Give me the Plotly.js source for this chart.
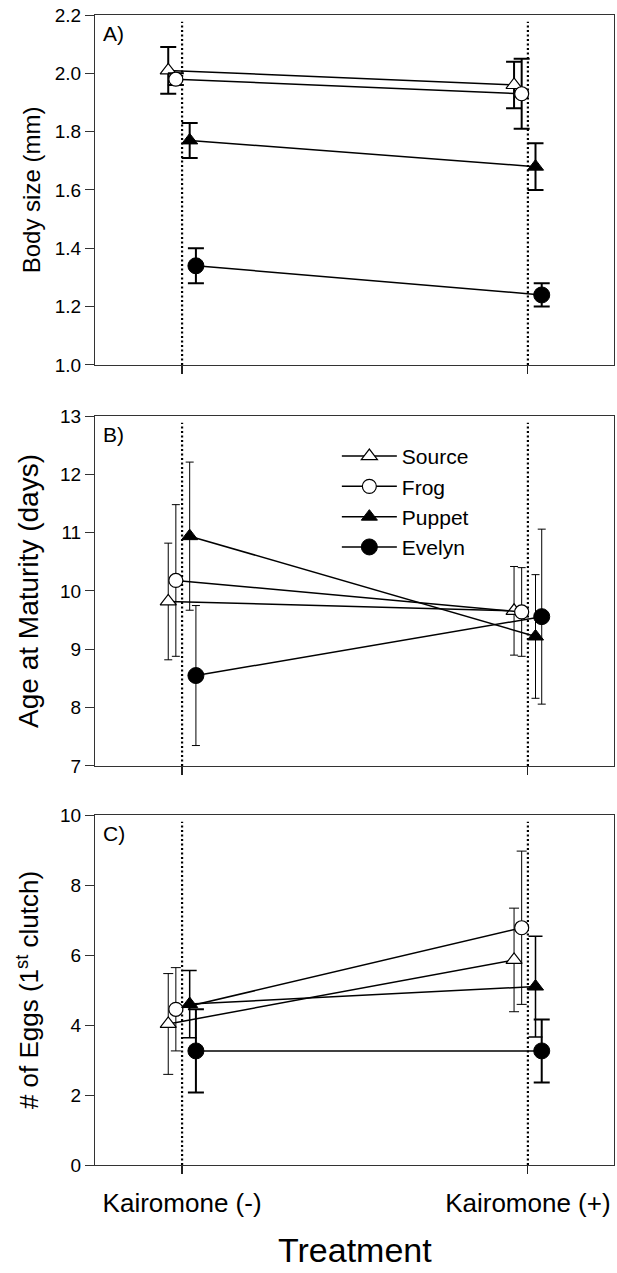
<!DOCTYPE html>
<html>
<head>
<meta charset="utf-8">
<script src="https://cdn.plot.ly/plotly-3.0.1.min.js"></script>
<style>html,body{margin:0;padding:0;background:#fff;}#chart{width:617px;height:1273px;}</style>
</head>
<body>
<div id="chart"></div>
<script>
// ---- data ----
const treatments = ["Kairomone (-)", "Kairomone (+)"];
const seriesNames = ["Source", "Frog", "Puppet", "Evelyn"];

// A) Body size (mm)
const sizeSource = [2.01, 1.96];
const sizeFrog   = [1.98, 1.93];
const sizePuppet = [1.77, 1.68];
const sizeEvelyn = [1.34, 1.24];
const sizeErrSource = [0.08, 0.08];
const sizeErrFrog   = [0.02, 0.12];
const sizeErrPuppet = [0.06, 0.08];
const sizeErrEvelyn = [0.06, 0.04];

// B) Age at maturity (days)
const ageSource = [9.82, 9.66];
const ageFrog   = [10.18, 9.64];
const agePuppet = [10.94, 9.22];
const ageEvelyn = [8.55, 9.56];
const ageErrSource = [1.00, 0.76];
const ageErrFrog   = [1.30, 0.76];
const ageErrPuppet = [1.27, 1.06];
const ageErrEvelyn = [1.20, 1.50];

// C) # of eggs (1st clutch)
const eggSource = [4.03, 5.86];
const eggFrog   = [4.45, 6.78];
const eggPuppet = [4.60, 5.10];
const eggEvelyn = [3.26, 3.26];
const eggErrSource = [1.44, 1.48];
const eggErrFrog   = [1.19, 2.19];
const eggErrPuppet = [0.96, 1.44];
const eggErrEvelyn = [1.19, 0.90];

// ---- styling ----
const FONT = "Liberation Sans, Arial, sans-serif";
const dodge = {Source: -0.04, Frog: -0.018, Puppet: 0.022, Evelyn: 0.04};
const markerStyle = {
  Source: {symbol: "triangle-up", color: "#ffffff", size: 14, line: {color: "#000", width: 1.2}},
  Frog:   {symbol: "circle", color: "#ffffff", size: 14, line: {color: "#000", width: 1.2}},
  Puppet: {symbol: "triangle-up", color: "#000000", size: 14, line: {color: "#000", width: 1}},
  Evelyn: {symbol: "circle", color: "#000000", size: 16, line: {color: "#000", width: 1}}
};

function xs(name) { return treatments.map((t, i) => i + dodge[name]); }

const panels = [
  {xa: "x", ya: "y", vals: {Source: sizeSource, Frog: sizeFrog, Puppet: sizePuppet, Evelyn: sizeEvelyn},
   errs: {Source: sizeErrSource, Frog: sizeErrFrog, Puppet: sizeErrPuppet, Evelyn: sizeErrEvelyn},
   eb: {Source: [2, 8], Frog: [2, 8], Puppet: [2, 8], Evelyn: [2, 8]}, legend: false},
  {xa: "x2", ya: "y2", vals: {Source: ageSource, Frog: ageFrog, Puppet: agePuppet, Evelyn: ageEvelyn},
   errs: {Source: ageErrSource, Frog: ageErrFrog, Puppet: ageErrPuppet, Evelyn: ageErrEvelyn},
   eb: {Source: [1, 4], Frog: [1, 4], Puppet: [1, 4], Evelyn: [1, 4]}, legend: true},
  {xa: "x3", ya: "y3", vals: {Source: eggSource, Frog: eggFrog, Puppet: eggPuppet, Evelyn: eggEvelyn},
   errs: {Source: eggErrSource, Frog: eggErrFrog, Puppet: eggErrPuppet, Evelyn: eggErrEvelyn},
   eb: {Source: [1, 5], Frog: [1, 5], Puppet: [1.5, 7], Evelyn: [2, 8]}, legend: false}
];

const traces = [];
panels.forEach(p => {
  seriesNames.forEach(name => {
    traces.push({
      type: "scatter", mode: "lines+markers",
      name: name, legendgroup: name, showlegend: p.legend,
      x: xs(name), y: p.vals[name],
      xaxis: p.xa, yaxis: p.ya,
      line: {color: "#000", width: 1.5},
      marker: markerStyle[name],
      error_y: {type: "data", array: p.errs[name], visible: true, color: "#000",
                thickness: p.eb[name][0], width: p.eb[name][1]},
      cliponaxis: false
    });
  });
});

const xRange = [-0.2518, 1.249];
function xaxisDef(anchor, showLabels) {
  return {
    anchor: anchor, domain: [0, 1], range: xRange,
    tickmode: "array", tickvals: [0, 1], ticktext: treatments,
    showticklabels: showLabels, ticks: "outside", ticklen: 8, tickwidth: 1.2, tickcolor: "#222",
    showline: true, linecolor: "#333", linewidth: 1, mirror: true,
    showgrid: false, zeroline: false, fixedrange: true,
    tickfont: {family: FONT, size: 26, color: "#000"}, ticklabelstandoff: 7
  };
}
function yaxisDef(anchor, domain, range, dtick, fmt, title, tsize, standoff) {
  return {
    anchor: anchor, domain: domain, range: range, dtick: dtick, tick0: range[0], tickformat: fmt,
    ticks: "outside", ticklen: 9, tickwidth: 1, tickcolor: "#333",
    showline: true, linecolor: "#333", linewidth: 1, mirror: true,
    showgrid: false, zeroline: false, fixedrange: true,
    tickfont: {family: FONT, size: 19, color: "#000"},
    title: {text: title, font: {family: FONT, size: tsize, color: "#000"}, standoff: standoff}
  };
}

const dots = ["x", "x2", "x3"].flatMap((xa, k) => {
  const ya = ["y", "y2", "y3"][k];
  return [0, 1].map(v => ({
    type: "line", xref: xa, yref: ya + " domain", x0: v, x1: v, y0: 0, y1: 0.981,
    line: {color: "#000", width: 2.2, dash: "2px,2.5px"}, layer: "below"
  }));
});

const panelLabels = ["A)", "B)", "C)"].map((t, k) => ({
  text: t, xref: ["x", "x2", "x3"][k] + " domain", yref: ["y", "y2", "y3"][k] + " domain",
  x: 0.012, y: 0.987, xanchor: "left", yanchor: "top", showarrow: false,
  font: {family: FONT, size: 21, color: "#000"}
}));

const layout = {
  width: 617, height: 1273,
  margin: {l: 95, r: 3, t: 15, b: 108},
  paper_bgcolor: "#fff", plot_bgcolor: "#fff",
  showlegend: true,
  legend: {x: 0.466, y: 0.634, xanchor: "left", yanchor: "top",
           font: {family: FONT, size: 21, color: "#000"}, bgcolor: "rgba(0,0,0,0)",
           tracegroupgap: 0, itemwidth: 55},
  xaxis: xaxisDef("y", false),
  xaxis2: xaxisDef("y2", false),
  xaxis3: xaxisDef("y3", true),
  yaxis: yaxisDef("x", [0.6957, 1], [1.0, 2.2], 0.2, ".1f", "Body size (mm)", 24, 7),
  yaxis2: yaxisDef("x2", [0.3470, 0.6513], [7, 13], 1, "d", "Age at Maturity (days)", 28, 13),
  yaxis3: yaxisDef("x3", [0, 0.3043], [0, 10], 2, "d", "# of Eggs (1<sup>st</sup> clutch)", 26, 13),
  shapes: dots,
  annotations: panelLabels.concat([{
    text: "Treatment", xref: "paper", yref: "paper", x: 0.501, y: -0.0739,
    xanchor: "center", yanchor: "middle", showarrow: false,
    font: {family: FONT, size: 34, color: "#000"}
  }])
};

Plotly.newPlot("chart", traces, layout, {staticPlot: true, displayModeBar: false});
</script>
</body>
</html>
